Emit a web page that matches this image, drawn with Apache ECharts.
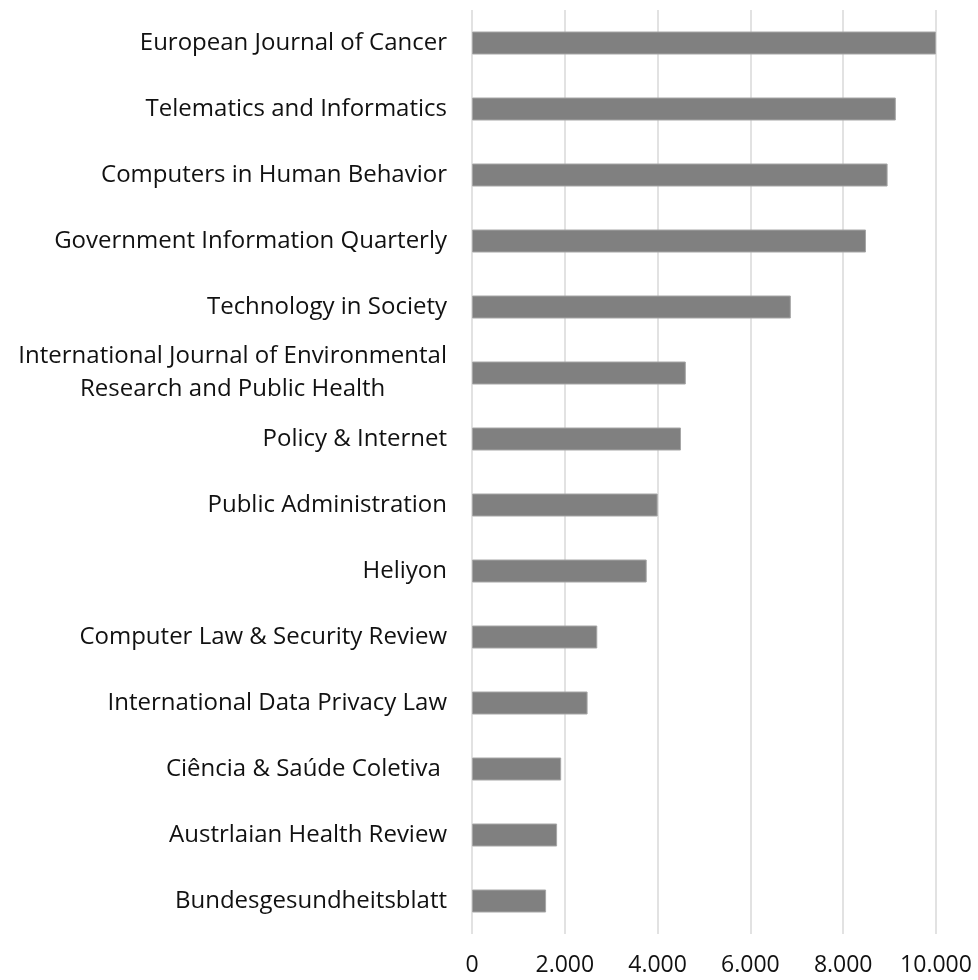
<!DOCTYPE html>
<html>
<head>
<meta charset="utf-8">
<script src="https://cdn.jsdelivr.net/npm/echarts@6/dist/echarts.min.js"></script>
<style>
  html, body { margin: 0; padding: 0; background: #fff; }
  #chart { width: 978px; height: 980px; }
</style>
</head>
<body>
<div id="chart"></div>
<script>
  // journals, top to bottom as drawn
  var journals = [
    'European Journal of Cancer',
    'Telematics and Informatics',
    'Computers in Human Behavior',
    'Government Information Quarterly',
    'Technology in Society',
    'International Journal of Environmental\nResearch and Public Health',
    'Policy & Internet',
    'Public Administration',
    'Heliyon',
    'Computer Law & Security Review',
    'International Data Privacy Law',
    'Ciência & Saúde Coletiva ',
    'Austrlaian Health Review',
    'Bundesgesundheitsblatt'
  ]
  var values = [10000, 9134, 8957, 8491, 6871, 4608, 4504, 4002, 3765, 2700, 2491, 1922, 1834, 1597]
  var xTicks = [0, 2000, 4000, 6000, 8000, 10000]

  var chart = echarts.init(document.getElementById('chart'))
  var fontFamily = '"Open Sans", "Noto Sans", sans-serif'

  var option = {
    animation: false,
    grid: {
      left: 472,
      right: 42,
      top: 10,
      bottom: 46,
      containLabel: false
    },
    xAxis: {
      type: 'value',
      min: xTicks[0],
      max: xTicks[xTicks.length - 1],
      interval: 2000,
      axisLine: { show: false },
      axisTick: { show: false },
      splitLine: { lineStyle: { color: '#d9d9d9', width: 1.5 } },
      axisLabel: {
        margin: 20,
        color: '#111',
        fontFamily: fontFamily,
        fontSize: 23,
        formatter: function (v) {
          return v.toLocaleString('en-US').replace(/,/g, '.')
        }
      }
    },
    yAxis: {
      type: 'category',
      inverse: true,
      data: journals,
      axisLine: { show: false },
      axisTick: { show: false },
      axisLabel: {
        margin: 25,
        color: '#111',
        fontFamily: fontFamily,
        fontSize: 24,
        lineHeight: 33,
        formatter: function (v) {
          return v.split('\n').map(function (s) { return '{c|' + s + '}' }).join('\n')
        },
        rich: {
          c: { align: 'center', fontFamily: fontFamily, fontSize: 24, lineHeight: 33, color: '#111' }
        }
      }
    },
    series: [
      {
        type: 'bar',
        data: values,
        barWidth: 23,
        itemStyle: {
          color: '#808080',
          borderColor: '#a6a6a6',
          borderWidth: 1
        }
      }
    ]
  }
  chart.setOption(option)
</script>
</body>
</html>
